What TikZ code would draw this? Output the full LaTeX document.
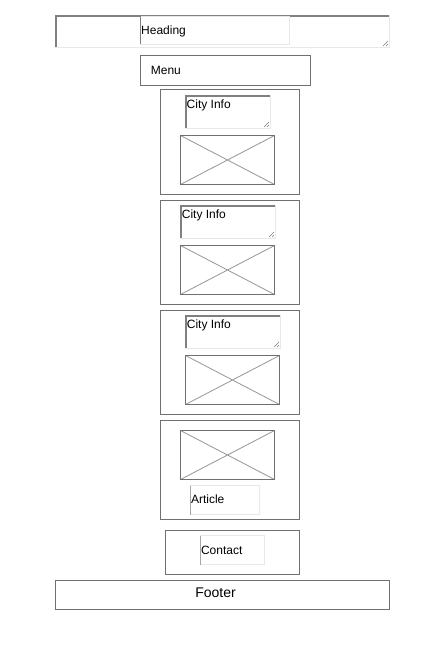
\documentclass[tikz,border=0pt]{standalone}
\usepackage{fontspec}
\setmainfont{Liberation Sans}
\definecolor{bord}{RGB}{112,112,112}
\definecolor{dark}{RGB}{128,128,128}
\definecolor{light}{RGB}{232,232,232}
\definecolor{cross}{RGB}{150,150,150}
\newcommand\mytarea[4]{%
  \fill[white] (#1,#2) rectangle (#3,#4);
  \draw[light, line width=1] (#3-0.5,#2) -- (#3-0.5,#4-0.5) -- (#1,#4-0.5);
  \draw[dark, line width=2] (#1+1,#4-1) -- (#1+1,#2+1) -- (#3-1,#2+1);
  \draw[dark, line width=0.6] (#3-2,#4-7) -- (#3-7,#4-2) (#3-2,#4-4) -- (#3-4,#4-2);
}
\newcommand\myimg[4]{%
  \draw[cross, line width=0.8] (#1,#2) -- (#3,#4) (#1,#4) -- (#3,#2);
  \draw[bord, line width=1] (#1,#2) rectangle (#3,#4);
}
\tikzset{
  frame/.style={draw=bord, line width=1},
  lbl/.style={inner sep=0, anchor=base west, font=\fontsize{12}{14}\selectfont},
  plainbox/.style={draw=light, fill=white, line width=1},
}
\begin{document}
\begin{tikzpicture}[x=1pt, y=-1pt]
\useasboundingbox[fill=white] (0,0) rectangle (437,660);
% heading
\mytarea{55}{15}{390}{48}
\draw[plainbox] (140.5,16.5) rectangle (289.5,44.5);
\draw[dark, line width=1] (140.5,16.5) -- (140.5,44.5);
\node[lbl] (heading) at (141,34.3) {Heading};
% menu
\draw[frame] (140.5,55.5) rectangle (310.5,85.5);
\node[lbl] (menu) at (150.7,75) {Menu};
% section 1
\draw[frame] (160.5,89.5) rectangle (299.5,194.5);
\mytarea{185}{95}{271}{129}
\node[lbl] (city1) at (186.5,108.3) {City Info};
\myimg{180.5}{135.5}{274.5}{184.5}
% section 2
\draw[frame] (160.5,200.5) rectangle (299.5,304.5);
\mytarea{180}{205}{276}{239}
\node[lbl] (city2) at (181.7,218.3) {City Info};
\myimg{180.5}{245.5}{274.5}{294.5}
% section 3
\draw[frame] (160.5,310.5) rectangle (299.5,414.5);
\mytarea{185}{315}{281}{349}
\node[lbl] (city3) at (186.7,328.3) {City Info};
\myimg{185.5}{355.5}{279.5}{404.5}
% section 4
\draw[frame] (160.5,420.5) rectangle (299.5,519.5);
\myimg{180.5}{430.5}{274.5}{479.5}
\draw[plainbox] (190.5,485.5) rectangle (259.5,514.5);
\draw[dark!70, line width=1] (190.5,485.5) -- (190.5,514.5);
\node[lbl] (article) at (190.8,503.3) {Article};
% contact
\draw[frame] (165.5,530.5) rectangle (299.5,574.5);
\draw[plainbox] (200.5,535.5) rectangle (264.5,564.5);
\draw[dark!70, line width=1] (200.5,535.5) -- (200.5,564.5);
\node[lbl] (contact) at (200.8,554) {Contact};
% footer
\draw[frame] (55.5,580.5) rectangle (389.5,609.5);
\node[lbl, font=\fontsize{14}{16}\selectfont, anchor=base] (footer) at (215.5,597.7) {Footer};
\end{tikzpicture}
\end{document}
